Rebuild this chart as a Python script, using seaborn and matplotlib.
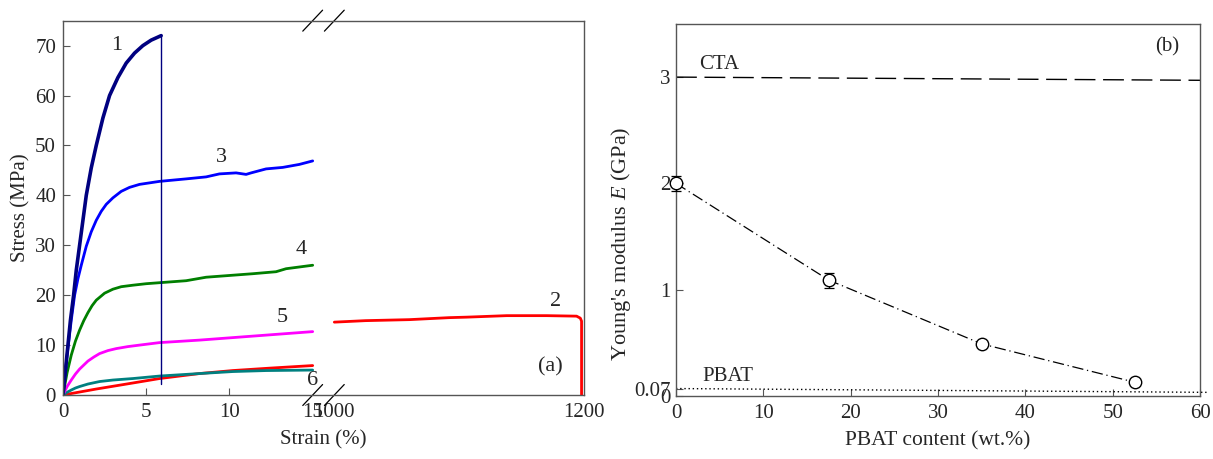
import numpy as np
import pandas as pd
import matplotlib
matplotlib.use("Agg")
import matplotlib.pyplot as plt
import seaborn as sns

# ---------------- data: panel (a) stress-strain curves ----------------
c1_strain = [0, 0.15, 0.3, 0.45, 0.64, 0.8, 1.0, 1.2, 1.4, 1.7, 2.0, 2.4, 2.8, 3.3, 3.8, 4.3, 4.8, 5.3, 5.9]
c1_stress = [0, 5, 10, 15, 20, 25, 30, 35, 40, 45.5, 50, 55.5, 60, 63.6, 66.5, 68.5, 70, 71.1, 72]
c1_break_strain = [5.9, 5.9]
c1_break_stress = [72, 2.3]

c3_strain = [0, 0.25, 0.5, 0.7, 0.9, 1.1, 1.4, 1.7, 2.0, 2.3, 2.6, 3.0, 3.5, 4.0, 4.6, 5.2, 5.8,
             7.4, 8.6, 9.4, 10.4, 11.0, 11.3, 12.2, 13.2, 14.2, 15]
c3_stress = [0, 8, 15, 20, 23.3, 26, 29.8, 32.7, 35, 36.8, 38.2, 39.5, 40.8, 41.6, 42.2, 42.5, 42.8,
             43.3, 43.7, 44.3, 44.5, 44.2, 44.5, 45.3, 45.6, 46.2, 46.9]

c4_strain = [0, 0.25, 0.5, 0.75, 1.0, 1.25, 1.5, 1.75, 2.0, 2.5, 3.0, 3.5, 4.2, 5.0, 5.8,
             7.4, 8.6, 10.2, 11.4, 12.8, 13.4, 15]
c4_stress = [0, 4.5, 8, 10.8, 13, 14.9, 16.5, 17.9, 19, 20.4, 21.2, 21.7, 22, 22.3, 22.5,
             22.9, 23.6, 24, 24.3, 24.7, 25.3, 26]

c5_strain = [0, 0.25, 0.5, 0.75, 1.0, 1.25, 1.5, 1.85, 2.2, 2.7, 3.2, 3.9, 4.6, 5.8, 8.2, 10.2, 12.2, 15]
c5_stress = [0, 1.7, 3, 4.2, 5.2, 6.0, 6.8, 7.6, 8.3, 8.9, 9.3, 9.7, 10, 10.5, 11, 11.5, 12, 12.7]

c6_strain = [0, 0.25, 0.5, 0.75, 1.0, 1.5, 2.2, 3.0, 4.2, 5.8, 8.2, 10.2, 12.2, 15]
c6_stress = [0, 0.55, 1.0, 1.4, 1.7, 2.2, 2.7, 3.0, 3.3, 3.8, 4.3, 4.7, 4.9, 5.0]

c2a_strain = [0, 2, 4, 5.8, 8.2, 10.2, 12.5, 15]
c2a_stress = [0, 1.2, 2.3, 3.3, 4.3, 4.9, 5.4, 5.9]
c2b_strain = [1000, 1025, 1060, 1092, 1106, 1138, 1170, 1194, 1197, 1198, 1198]
c2b_stress = [14.6, 14.9, 15.1, 15.5, 15.6, 15.9, 15.9, 15.8, 15.4, 14.8, 0]

a_xticks = [0, 5, 10, 15, 1000, 1200]
a_xticklabels = ["0", "5", "10", "15", "1000", "1200"]
a_yticks = [0, 10, 20, 30, 40, 50, 60, 70]

# ---------------- data: panel (b) Young's modulus ----------------
pbat_content = [0, 17.5, 35, 52.5]
modulus = [2.0, 1.09, 0.49, 0.13]
modulus_err = [0.07, 0.07, 0.03, 0.03]
cta_x = [0, 60]
cta_E = [3.0, 2.97]
pbat_x = [0, 61]
pbat_E = [0.07, 0.034]
b_yticks = [0, 0.07, 1, 2, 3]
b_yticklabels = ["0", "0.07", "1", "2", "3"]
b_xticks = [0, 10, 20, 30, 40, 50, 60]

# ---------------- style ----------------
sns.set_theme(style="ticks")
plt.rcParams["font.family"] = ["Liberation Serif", "DejaVu Serif"]
plt.rcParams["mathtext.fontset"] = "custom"
plt.rcParams["mathtext.it"] = "Liberation Serif:italic"
plt.rcParams["mathtext.rm"] = "Liberation Serif"
FS = 15
spine_col = "#555555"

fig = plt.figure(figsize=(12.13, 4.59), dpi=100)
axa = fig.add_axes([0.0519, 0.1394, 0.4296, 0.8156])
axb = fig.add_axes([0.5573, 0.1373, 0.4320, 0.8105])

# broken x scale for panel (a)
GAP = 1.3
K = 0.075

def fwd(x):
    x = np.asarray(x, dtype=float)
    return np.where(x <= 15, x,
                    np.where(x >= 1000, 15 + GAP + (x - 1000) * K,
                             15 + (x - 15) * GAP / 985.0))

def inv(y):
    y = np.asarray(y, dtype=float)
    return np.where(y <= 15, y,
                    np.where(y >= 15 + GAP, 1000 + (y - 15 - GAP) / K,
                             15 + (y - 15) * 985.0 / GAP))

axa.set_xscale("function", functions=(fwd, inv))

def curve(ax, xs, ys, color, lw):
    df = pd.DataFrame({"x": xs, "y": ys})
    sns.lineplot(data=df, x="x", y="y", color=color, lw=lw, ax=ax,
                 sort=False, estimator=None)

curve(axa, c2a_strain, c2a_stress, "#ff0000", 2.0)
curve(axa, c2b_strain, c2b_stress, "#ff0000", 2.0)
curve(axa, c6_strain, c6_stress, "#008080", 2.0)
curve(axa, c5_strain, c5_stress, "#ff00ff", 2.0)
curve(axa, c4_strain, c4_stress, "#007f00", 2.0)
curve(axa, c3_strain, c3_stress, "#0000ff", 2.0)
curve(axa, c1_strain, c1_stress, "#000080", 2.6)
curve(axa, c1_break_strain, c1_break_stress, "#000080", 1.0)

axa.set_xlim(0, 1200)
axa.set_ylim(0, 75)
axa.set_xticks(a_xticks)
axa.set_xticklabels(a_xticklabels)
axa.set_yticks(a_yticks)
axa.tick_params(direction="in", length=5, width=0.8, color=spine_col,
                labelsize=FS, top=False, right=False)
axa.tick_params(axis="x", pad=6)
axa.tick_params(axis="y", pad=5)
for t in axa.xaxis.get_major_ticks()[3:]:
    t.tick1line.set_visible(False)
axa.set_xlabel("Strain (%)", fontsize=FS, labelpad=6)
axa.set_ylabel("Stress (MPa)", fontsize=FS, labelpad=3)
for s in axa.spines.values():
    s.set_color(spine_col)
    s.set_linewidth(1.0)

# curve labels
for txt, x, y in [("1", 3.2, 70), ("3", 9.5, 47.6), ("4", 14.3, 29.2),
                  ("5", 13.2, 15.6), ("6", 15.4, 3.0), ("2", 1177, 18.8),
                  ("(a)", 1173, 5.6)]:
    axa.text(x, y, txt, fontsize=FS + 1, ha="center", va="center")

# break marks
total = float(fwd(1200))
for xv in (15, 1000):
    xf = float(fwd(xv)) / total
    for yf in (0.0, 1.0):
        axa.plot([xf - 0.019, xf + 0.019], [yf - 0.028, yf + 0.028],
                 transform=axa.transAxes, color="black", lw=0.9,
                 clip_on=False)

# ---------------- panel (b) ----------------
sns.lineplot(x=cta_x, y=cta_E, ax=axb, color="black", lw=1.0,
             linestyle=(0, (15, 5.5)))
lp = sns.lineplot(x=pbat_x, y=pbat_E, ax=axb, color="black", lw=1.0,
                  linestyle=(0, (1, 2)))
lp.lines[-1].set_clip_on(False)
sns.lineplot(x=pbat_content, y=modulus, ax=axb, color="black", lw=0.9,
             linestyle=(0, (9, 3, 1, 3)), sort=False, estimator=None)
axb.errorbar(pbat_content, modulus, yerr=modulus_err, fmt="none",
             ecolor="black", elinewidth=0.9, capsize=3.5, capthick=0.9,
             zorder=3, clip_on=False)
sns.scatterplot(x=pbat_content, y=modulus, ax=axb, s=80, marker="o",
                facecolor="white", edgecolor="black", linewidth=1.0,
                zorder=4)
for coll in axb.collections:
    coll.set_clip_on(False)

axb.set_xlim(0, 60)
axb.set_ylim(0, 3.5)
axb.set_xticks(b_xticks)
axb.set_yticks(b_yticks)
axb.set_yticklabels(b_yticklabels)
axb.tick_params(direction="in", length=5, width=0.8, color=spine_col,
                labelsize=FS, top=False, right=False)
axb.tick_params(axis="x", pad=6)
axb.tick_params(axis="y", pad=4)
axb.set_xlabel("PBAT content (wt.%)", fontsize=FS + 0.5, labelpad=6)
axb.set_ylabel("Young's modulus $E$ (GPa)", fontsize=FS + 1)
axb.yaxis.set_label_coords(-0.082, 0.41)
for s in axb.spines.values():
    s.set_color(spine_col)
    s.set_linewidth(1.0)

axb.text(5.0, 3.12, "CTA", fontsize=FS, ha="center", va="center")
axb.text(5.9, 0.18, "PBAT", fontsize=FS, ha="center", va="center")
axb.text(56.2, 3.28, "(b)", fontsize=FS, ha="center", va="center")

fig.savefig("out.png", dpi=100)
